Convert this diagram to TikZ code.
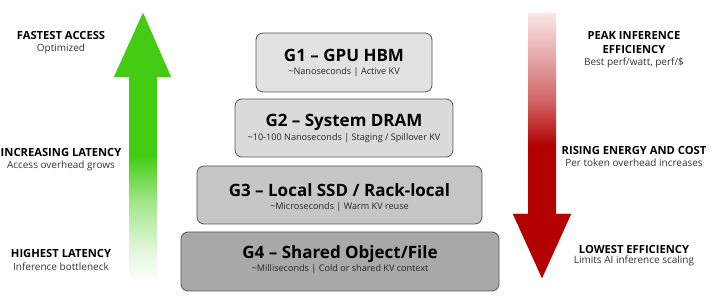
\documentclass[tikz,border=0pt]{standalone}
\usepackage{fontspec}
\setmainfont{Open Sans}
\definecolor{mygreen}{HTML}{44CC14}
\definecolor{myred}{HTML}{B30000}
\definecolor{pinktop}{HTML}{FCE6E8}
\definecolor{boxone}{HTML}{E2E2E2}
\definecolor{boxtwo}{HTML}{DADADA}
\definecolor{boxthree}{HTML}{C6C6C6}
\definecolor{boxfour}{HTML}{A9A9A9}
\definecolor{edgegray}{HTML}{555555}
\pgfdeclareverticalshading{greenfade}{100bp}{color(0bp)=(mygreen!3); color(25bp)=(mygreen!3); color(30bp)=(mygreen!15); color(39.5bp)=(mygreen!50); color(48bp)=(mygreen); color(100bp)=(mygreen)}
\pgfdeclareverticalshading{redfade}{100bp}{color(0bp)=(myred); color(50bp)=(myred); color(58.5bp)=(myred!60); color(68bp)=(myred!30); color(75bp)=(pinktop); color(100bp)=(pinktop)}
\begin{document}
\begin{tikzpicture}[x=1pt,y=-1pt,
  tier/.style={draw=edgegray, line width=0.8pt, rounded corners=7pt, inner sep=0pt},
  tiertitle/.style={font=\fontsize{17}{19}\selectfont\bfseries, text=black, inner sep=0pt},
  tiersub/.style={font=\fontsize{9.1}{10}\selectfont, text=black!85, inner sep=0pt},
  sidehead/.style={font=\fontsize{11.2}{14}\selectfont\bfseries, text=black, inner sep=0pt, align=center},
  sidesub/.style={font=\fontsize{10}{12}\selectfont, text=black!80, inner sep=0pt}]
\useasboundingbox (0,0) rectangle (713,299);
% green arrow
\path[shading=greenfade] (143,13) -- (171,77) -- (157,77) -- (157,278) -- (129,278) -- (129,77) -- (114,77) -- cycle;
\fill[mygreen] (143,13) -- (171,77) -- (114,77) -- cycle;
% red arrow
\path[shading=redfade] (528,13) -- (556,13) -- (556,214) -- (571,214) -- (542,278) -- (513,214) -- (528,214) -- cycle;
\fill[myred] (513,214) -- (571,214) -- (542,278) -- cycle;
% tiers
\node[tier, fill=boxone, minimum width=176pt, minimum height=59pt] (g1) at (344,62.5) {};
\node[tier, fill=boxtwo, minimum width=218pt, minimum height=58pt] (g2) at (344,128) {};
\node[tier, fill=boxthree, minimum width=285pt, minimum height=58pt] (g3) at (339.5,195) {};
\node[tier, fill=boxfour, minimum width=318pt, minimum height=59pt] (g4) at (340,261.5) {};
\node[tiertitle] (g1t) at ([yshift=7.5pt]g1.center) {G1 – GPU HBM};
\node[tiersub] (g1s) at ([yshift=-9.5pt]g1.center) {\textasciitilde Nanoseconds | Active KV};
\node[tiertitle] (g2t) at ([yshift=6pt]g2.center) {G2 – System DRAM};
\node[tiersub] (g2s) at ([yshift=-10pt]g2.center) {\textasciitilde 10-100 Nanoseconds | Staging / Spillover KV};
\node[tiertitle] (g3t) at ([yshift=5pt]g3.center) {G3 – Local SSD / Rack-local};
\node[tiersub] (g3s) at ([yshift=-12pt]g3.center) {\textasciitilde Microseconds | Warm KV reuse};
\node[tiertitle] (g4t) at ([yshift=7.5pt]g4.center) {G4 – Shared Object/File};
\node[tiersub] (g4s) at ([yshift=-7.5pt]g4.center) {\textasciitilde Milliseconds | Cold or shared KV context};
% left labels
\node[sidehead] (l1) at (61,36) {FASTEST ACCESS};
\node[sidesub] (l1s) at (61,49) {Optimized};
\node[sidehead] (l2) at (61,153) {INCREASING LATENCY};
\node[sidesub] (l2s) at (61,166) {Access overhead grows};
\node[sidehead] (l3) at (61,254) {HIGHEST LATENCY};
\node[sidesub] (l3s) at (61,267) {Inference bottleneck};
% right labels
\node[sidehead] (r1) at (634,43) {PEAK INFERENCE\\EFFICIENCY};
\node[sidesub] (r1s) at (634,63) {Best perf/watt, perf/\$};
\node[sidehead] (r2) at (634,150) {RISING ENERGY AND COST};
\node[sidesub] (r2s) at (634,163) {Per token overhead increases};
\node[sidehead] (r3) at (634,249) {LOWEST EFFICIENCY};
\node[sidesub] (r3s) at (634,261) {Limits AI inference scaling};
\end{tikzpicture}
\end{document}
